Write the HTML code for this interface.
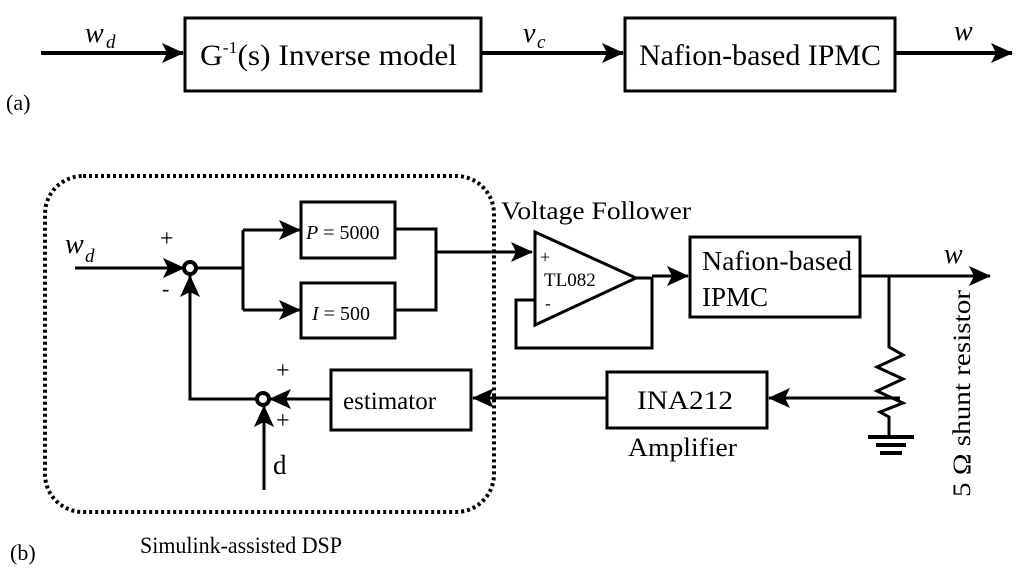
<!DOCTYPE html>
<html><head><meta charset="utf-8"><style>html,body{margin:0;padding:0;background:#fff}svg{display:block}</style></head>
<body>
<svg width="1024" height="572" viewBox="0 0 1024 572" xmlns="http://www.w3.org/2000/svg" font-family="Liberation Serif, serif" fill="#000">
<defs>
<marker id="b" markerWidth="22" markerHeight="20" refX="21" refY="10" orient="auto" markerUnits="userSpaceOnUse"><path d="M0,0 L22,10 L0,20 L5,10 Z"/></marker>
</defs>
<g stroke="#000" stroke-width="4" fill="none">
<!-- (a) -->
<line x1="41" y1="53" x2="183" y2="53" marker-end="url(#b)"/>
<rect x="185" y="18" width="296" height="73" stroke-width="3"/>
<line x1="481" y1="53" x2="623" y2="53" marker-end="url(#b)"/>
<rect x="625" y="18" width="270" height="73" stroke-width="3"/>
<line x1="895" y1="53" x2="1012" y2="53" marker-end="url(#b)"/>
<!-- dotted -->
<rect x="45" y="176" width="449" height="336" rx="38" stroke-width="4" stroke-dasharray="3,3"/>
<!-- (b) -->
<line x1="75" y1="268" x2="184" y2="268" stroke-width="3" marker-end="url(#b)"/>
<circle cx="190" cy="268" r="6" stroke-width="4"/>
<line x1="196" y1="268" x2="243" y2="268" stroke-width="3"/>
<polyline points="243,230 243,310" stroke-width="3"/>
<line x1="243" y1="230" x2="300" y2="230" stroke-width="3" marker-end="url(#b)"/>
<line x1="243" y1="310" x2="300" y2="310" stroke-width="3" marker-end="url(#b)"/>
<rect x="301" y="202" width="94" height="56" stroke-width="3"/>
<rect x="301" y="283" width="94" height="55" stroke-width="3"/>
<polyline points="395,229 436,229 436,310 395,310" stroke-width="3"/>
<line x1="436" y1="252" x2="532" y2="252" stroke-width="3" marker-end="url(#b)"/>
<polygon points="535,232 636,278 535,325" stroke-width="3"/>
<polyline points="636,278 652,278 652,348 516,348 516,300 535,300" stroke-width="3"/>
<line x1="652" y1="276" x2="688" y2="276" stroke-width="3" marker-end="url(#b)"/>
<rect x="690" y="237" width="170" height="80" stroke-width="3"/>
<line x1="860" y1="276" x2="990" y2="276" stroke-width="3" marker-end="url(#b)"/>
<polyline points="889,276 889,347 903,355 877,367 903,379 877,391 903,403 880,412 889,417 889,437" stroke-width="3"/>
<line x1="868" y1="437" x2="914" y2="437"/>
<line x1="876" y1="445" x2="906" y2="445"/>
<line x1="880" y1="453" x2="902" y2="453"/>
<line x1="900" y1="398" x2="769" y2="398" stroke-width="3" marker-end="url(#b)"/>
<rect x="607" y="372" width="160" height="56" stroke-width="3"/>
<line x1="607" y1="398" x2="473" y2="398" stroke-width="3" marker-end="url(#b)"/>
<rect x="331" y="370" width="140" height="60" stroke-width="3"/>
<line x1="331" y1="399" x2="270" y2="399" stroke-width="3" marker-end="url(#b)"/>
<circle cx="263" cy="399" r="6" stroke-width="4"/>
<polyline points="257,399 190,399 190,276" stroke-width="3" marker-end="url(#b)"/>
<line x1="264" y1="490" x2="264" y2="406" stroke-width="3" marker-end="url(#b)"/>
</g>
<g font-size="26">
<text x="85" y="42" font-style="italic" font-size="28">w</text><text x="106" y="48" font-size="19" font-style="italic">d</text>
<text x="200" y="65" font-size="30" textLength="257" lengthAdjust="spacingAndGlyphs">G<tspan font-size="17" dy="-12">-1</tspan><tspan dy="12">(s)  Inverse model</tspan></text>
<text x="523" y="42" font-style="italic" font-size="28">v</text><text x="537" y="48" font-size="19" font-style="italic">c</text>
<text x="639" y="65" font-size="30" textLength="242" lengthAdjust="spacingAndGlyphs">Nafion-based IPMC</text>
<text x="954" y="40" font-style="italic" font-size="28">w</text>
<text x="6" y="110" font-size="22">(a)</text>
<text x="65" y="253" font-style="italic" font-size="28">w</text><text x="85" y="262" font-size="19" font-style="italic">d</text>
<text x="160" y="246" font-size="24">+</text>
<text x="162" y="296" font-size="22">-</text>
<text x="306" y="239" font-size="20"><tspan font-style="italic">P</tspan> = 5000</text>
<text x="312" y="320" font-size="20"><tspan font-style="italic">I</tspan> = 500</text>
<text x="501" y="219" font-size="25" textLength="190" lengthAdjust="spacingAndGlyphs">Voltage Follower</text>
<text x="540" y="263" font-size="18">+</text>
<text x="544" y="286" font-size="19">TL082</text>
<text x="545" y="309" font-size="17">-</text>
<text x="702" y="270" font-size="27" textLength="150" lengthAdjust="spacingAndGlyphs">Nafion-based</text>
<text x="702" y="306" font-size="27">IPMC</text>
<text x="944" y="263" font-style="italic" font-size="28">w</text>
<text x="343" y="409" font-size="25">estimator</text>
<text x="276" y="378" font-size="24">+</text>
<text x="276" y="428" font-size="24">+</text>
<text x="273" y="474" font-size="27">d</text>
<text x="637" y="409" font-size="26" textLength="96" lengthAdjust="spacingAndGlyphs">INA212</text>
<text x="628" y="456" font-size="26" textLength="109" lengthAdjust="spacingAndGlyphs">Amplifier</text>
<text transform="translate(970,497) rotate(-90)" font-size="25" textLength="207" lengthAdjust="spacingAndGlyphs">5 Ω shunt resistor</text>
<text x="10" y="560" font-size="22">(b)</text>
<text x="140" y="553" font-size="23" textLength="202" lengthAdjust="spacingAndGlyphs">Simulink-assisted  DSP</text>
</g>
</svg>
</body></html>
